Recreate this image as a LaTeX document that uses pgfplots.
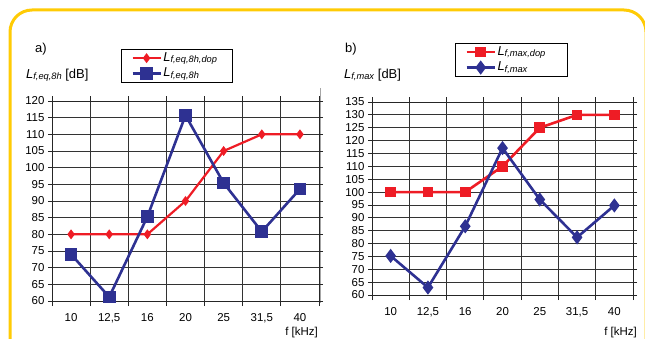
\documentclass[border=0pt]{standalone}
\usepackage{pgfplots}
\pgfplotsset{compat=1.18}
\usepackage{fontspec}
\setmainfont{Liberation Sans}
\definecolor{myred}{HTML}{EE1C25}
\definecolor{myblue}{HTML}{2E3192}
\definecolor{frameyellow}{HTML}{FFCB05}
\newcommand{\Lsub}[1]{\textit{L}\raisebox{-1.5bp}{\fontsize{9.3}{9}\selectfont\textit{#1}}}
\newcommand{\Lent}[1]{\makebox[58bp][l]{\Lsub{#1}}}
\pgfplotsset{
  mystyle/.style={
    scale only axis,
    clip=false,
    xmin=-0.5, xmax=6.5,
    xtick={0,...,6},
    xticklabels={10,{12,5},16,20,25,{31,5},40},
    minor xtick={-0.5,0.5,...,6.5},
    xminorgrids, ymajorgrids,
    tick align=outside,
    major tick length=4bp,
    minor tick length=5bp,
    major x tick style={draw=none},
    minor x tick style={black!85, line width=0.8bp},
    major y tick style={black!85, line width=0.8bp},
    grid style={black!80, line width=0.8bp},
    minor grid style={black!80, line width=0.8bp},
    axis line style={black!85, line width=0.8bp},
    tick label style={font=\fontsize{11.5}{12}\selectfont},
    /pgf/number format/assume math mode=true,
    xticklabel style={yshift=-5bp},
    legend cell align=left,
    legend style={anchor=north west, draw=black, line width=0.8bp,
      font=\fontsize{13}{13}\selectfont,
      inner ysep=1bp, inner xsep=10bp,
      nodes={inner sep=1.5bp, text height=9.5bp, text depth=3bp},
      /tikz/every odd column/.append style={column sep=0bp},
    },
    legend image code/.code={\draw[mark repeat=2,mark phase=2] plot coordinates {(0bp,0bp)(14bp,0bp)(28bp,0bp)};},
  }
}
\begin{document}
\begin{tikzpicture}
\begin{scope}[x=1bp,y=1bp]
\useasboundingbox (0,0) rectangle (645,338);
% frame
\draw[frameyellow, line width=3bp] (10,-5) -- (10,306) arc[start angle=180, end angle=90, radius=22] -- (624,328) arc[start angle=90, end angle=0, radius=22] -- (646,-5);
\draw[black!35, line width=1bp] (320,250) -- (320,35);
% texts
\node[anchor=base west, inner sep=0, font=\fontsize{13}{13}\selectfont] at (35,286) {a)};
\node[anchor=base west, inner sep=0, font=\fontsize{13}{13}\selectfont] at (26,260) {\Lsub{f,eq,8h} [dB]};
\node[anchor=base west, inner sep=0, font=\fontsize{13}{13}\selectfont] at (345,286) {b)};
\node[anchor=base west, inner sep=0, font=\fontsize{13}{13}\selectfont] at (344,260) {\Lsub{f,max} [dB]};
\node[anchor=base east, inner sep=0, font=\fontsize{11.5}{12}\selectfont] at (318,3) {f [kHz]};
\node[anchor=base east, inner sep=0, font=\fontsize{11.5}{12}\selectfont] at (637,3) {f [kHz]};
\end{scope}

\begin{axis}[mystyle, at={(52bp,37bp)}, anchor=south west, width=267bp, height=200bp,
  ymin=60, ymax=120, ytick={60,65,...,120},
  legend style={at={(rel axis cs:0.258,1.26)}}]
\addplot[myred, line width=2.2bp, mark=diamond*, mark size=3.2bp] coordinates {(0,80)(1,80)(2,80)(3,90)(4,105)(5,110)(6,110)};
\addlegendentry{\Lent{f,eq,8h,dop}}
\addplot[myblue, line width=2.6bp, mark=square*, mark size=5bp] coordinates {(0,74)(1,61.2)(2,85.3)(3,115.7)(4,95.4)(5,80.8)(6,93.6)};
\addlegendentry{\Lent{f,eq,8h}}
\end{axis}

\begin{axis}[mystyle, at={(372bp,43bp)}, anchor=south west, width=261bp, height=193bp,
  ymin=60, ymax=135, ytick={60,65,...,135},
  legend style={at={(rel axis cs:0.318,1.306)}}]
\addplot[myred, line width=2.6bp, mark=square*, mark size=4bp] coordinates {(0,100)(1,100)(2,100)(3,110)(4,125)(5,130)(6,130)};
\addlegendentry{\Lent{f,max,dop}}
\addplot[myblue, line width=2.6bp, mark=diamond*, mark size=5bp] coordinates {(0,75.2)(1,62.9)(2,86.7)(3,117.1)(4,97.1)(5,82.4)(6,94.8)};
\addlegendentry{\Lent{f,max}}
\end{axis}
\end{tikzpicture}
\end{document}
